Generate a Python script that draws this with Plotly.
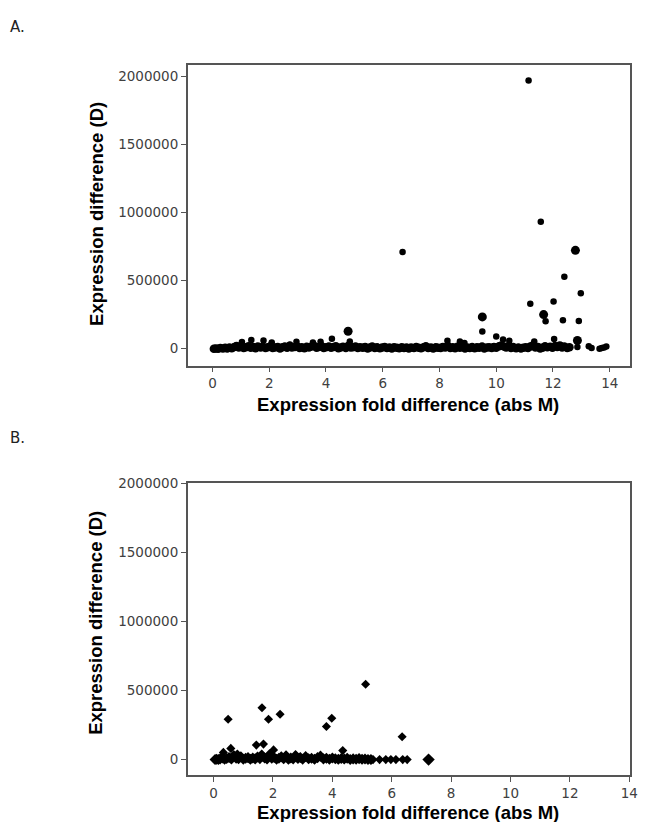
import plotly.graph_objects as go

# Panel A: dense band of genes near D = 0
a_band_x = [0.05, 0.12, 0.2, 0.28, 0.37, 0.45, 0.52, 0.6, 0.68, 0.77,
            0.85, 0.93, 1.0, 1.1, 1.18, 1.27, 1.35, 1.44, 1.52, 1.6,
            1.7, 1.78, 1.87, 1.95, 2.04, 2.12, 2.2, 2.3, 2.38, 2.47,
            2.55, 2.63, 2.72, 2.8, 2.9, 2.98, 3.07, 3.15, 3.24, 3.32,
            3.4, 3.5, 3.58, 3.67, 3.75, 3.84, 3.92, 4.0, 4.1, 4.18,
            4.27, 4.35, 4.44, 4.52, 4.6, 4.7, 4.78, 4.87, 4.95, 5.04,
            5.12, 5.2, 5.3, 5.38, 5.47, 5.55, 5.63, 5.72, 5.8, 5.9,
            5.98, 6.07, 6.15, 6.24, 6.32, 6.4, 6.5, 6.58, 6.67, 6.75,
            6.84, 6.92, 7.0, 7.1, 7.18, 7.27, 7.35, 7.44, 7.52, 7.6,
            7.7, 7.78, 7.87, 7.95, 8.04, 8.12, 8.2, 8.3, 8.38, 8.47,
            8.55, 8.63, 8.72, 8.8, 8.9, 8.98, 9.07, 9.15, 9.24, 9.32,
            9.4, 9.5, 9.58, 9.67, 9.75, 9.84, 9.92, 10.0, 10.1, 10.18,
            10.27, 10.35, 10.44, 10.52, 10.6, 10.7, 10.78, 10.87, 10.95, 11.04,
            11.12, 11.2, 11.3, 11.38, 11.47, 11.55, 11.63, 11.72, 11.8, 11.9,
            11.98, 12.07, 12.15, 12.24, 12.32, 12.4, 12.5, 12.58]
a_band_y = [0, 2000, 0, 4000, 1000, 6000, 2000, 9000, 3000, 12000,
            20000, 8000, 15000, 4000, 10000, 18000, 6000, 12000, 3000, 16000,
            9000, 14000, 5000, 11000, 17000, 4000, 8000, 13000, 2000, 10000,
            15000, 6000, 20000, 9000, 12000, 18000, 5000, 11000, 3000, 14000,
            8000, 16000, 22000, 7000, 13000, 19000, 4000, 10000, 15000, 6000,
            12000, 18000, 3000, 9000, 14000, 5000, 20000, 8000, 11000, 16000,
            4000, 10000, 7000, 13000, 2000, 9000, 15000, 5000, 11000, 3000,
            8000, 12000, 4000, 9000, 2000, 10000, 6000, 3000, 11000, 5000,
            8000, 2000, 9000, 4000, 12000, 6000, 3000, 10000, 17000, 5000,
            9000, 2000, 11000, 6000, 4000, 13000, 8000, 20000, 5000, 10000,
            3000, 14000, 7000, 18000, 1000, 9000, 5000, 12000, 3000, 10000,
            6000, 15000, 2000, 8000, 11000, 4000, 13000, 7000, 18000, 24000,
            15000, 9000, 20000, 5000, 12000, 3000, 8000, 2000, 6000, 11000,
            4000, 16000, 25000, 9000, 13000, 2000, 7000, 18000, 10000, 14000,
            6000, 20000, 12000, 24000, 8000, 15000, 5000, 10000]

# Panel A: points standing out from the band
a_out_x = [0.85, 1.04, 1.37, 1.80, 2.09, 2.73, 2.96, 3.54, 3.81, 4.21,
           4.84, 8.28, 8.72, 8.88, 10.0, 10.24, 10.46, 11.34, 12.04, 12.86,
           13.26, 13.36, 13.64, 13.72, 13.8, 13.88, 6.70, 9.51, 11.14, 11.20,
           11.57, 11.74, 12.02, 12.35, 12.40, 12.91, 12.98]
a_out_y = [25000, 48000, 63000, 60000, 45000, 30000, 50000, 45000, 50000, 73000,
           53000, 58000, 53000, 41000, 90000, 68000, 58000, 53000, 70000, 12000,
           17000, 5000, 0, 5000, 8000, 15000, 710000, 126000, 1969000, 330000,
           933000, 201000, 347000, 209000, 529000, 204000, 407000]

# Panel A: the few larger (overlapping) dots
a_big_x = [4.78, 9.51, 11.67, 12.79, 12.86]
a_big_y = [128000, 233000, 250000, 722000, 60000]

# Panel B: dense band
b_band_x = [0.05, 0.1, 0.16, 0.22, 0.3, 0.37, 0.44, 0.52, 0.6, 0.68,
            0.76, 0.84, 0.92, 1.0, 1.08, 1.16, 1.24, 1.32, 1.4, 1.48,
            1.56, 1.64, 1.72, 1.8, 1.88, 1.96, 2.04, 2.12, 2.2, 2.28,
            2.36, 2.44, 2.52, 2.6, 2.68, 2.76, 2.84, 2.92, 3.0, 3.1,
            3.2, 3.3, 3.4, 3.5, 3.6, 3.7, 3.8, 3.9, 4.0, 4.1,
            4.2, 4.3, 4.4, 4.5, 4.6, 4.7, 4.8, 4.9, 5.0, 5.1,
            5.2, 5.3]
b_band_y = [0, 2000, 0, 5000, 12000, 3000, 8000, 15000, 4000, 30000,
            10000, 6000, 20000, 3000, 9000, 14000, 2000, 11000, 5000, 18000,
            7000, 25000, 12000, 4000, 35000, 9000, 15000, 3000, 10000, 20000,
            6000, 28000, 2000, 12000, 5000, 30000, 8000, 15000, 3000, 22000,
            6000, 10000, 2000, 14000, 25000, 5000, 9000, 3000, 12000, 6000,
            2000, 8000, 4000, 10000, 1000, 5000, 3000, 7000, 2000, 4000,
            1000, 0]

b_out_x = [0.33, 0.49, 0.58, 1.44, 1.68, 1.63, 1.85, 2.02, 2.24, 3.80,
           3.98, 4.35, 5.12, 6.35, 5.37, 5.59, 5.80, 5.97, 6.14, 6.37,
           6.52, 0.80, 1.62]
b_out_y = [52000, 292000, 81000, 105000, 112000, 375000, 292000, 70000, 328000, 239000,
           299000, 65000, 545000, 165000, 0, 0, 0, 0, 0, 0,
           0, 40000, 40000]

b_big_x = [7.24]
b_big_y = [0]

y_ticks = [0, 500000, 1000000, 1500000, 2000000]
y_tick_labels = ["0", "500000", "1000000", "1500000", "2000000"]
x_ticks = [0, 2, 4, 6, 8, 10, 12, 14]

# the page body has an 8px margin; the div may run into the right margin
# without scrolling, but the bottom margin adds to the page height
OFF = 8
W, H = 653 - OFF, 830 - 2 * OFF


def px_x(p):
    return (p - OFF) / W


def px_y(p):
    return 1 - (p - OFF) / H


fig = go.Figure()

fig.add_trace(go.Scatter(x=a_band_x, y=a_band_y, mode="markers",
                         marker=dict(symbol="circle", size=8.5, color="black"),
                         xaxis="x", yaxis="y"))
fig.add_trace(go.Scatter(x=a_out_x, y=a_out_y, mode="markers",
                         marker=dict(symbol="circle", size=6.5, color="black"),
                         xaxis="x", yaxis="y"))
fig.add_trace(go.Scatter(x=a_big_x, y=a_big_y, mode="markers",
                         marker=dict(symbol="circle", size=9, color="black"),
                         xaxis="x", yaxis="y"))

fig.add_trace(go.Scatter(x=b_band_x, y=b_band_y, mode="markers",
                         marker=dict(symbol="diamond", size=8.5, color="black"),
                         xaxis="x2", yaxis="y2"))
fig.add_trace(go.Scatter(x=b_out_x, y=b_out_y, mode="markers",
                         marker=dict(symbol="diamond", size=7, color="black"),
                         xaxis="x2", yaxis="y2"))
fig.add_trace(go.Scatter(x=b_big_x, y=b_big_y, mode="markers",
                         marker=dict(symbol="diamond", size=9.5, color="black"),
                         xaxis="x2", yaxis="y2"))

axis_style = dict(showline=True, linecolor="#555555", linewidth=1.5, mirror=True,
                  ticks="outside", ticklen=5, tickcolor="#555555", tickwidth=1,
                  showgrid=False, zeroline=False,
                  tickfont=dict(family="DejaVu Sans", size=13.5, color="#404040"))

fig.update_layout(
    width=W, height=H,
    margin=dict(l=0, r=0, t=0, b=0),
    paper_bgcolor="white", plot_bgcolor="white",
    showlegend=False,
    xaxis=dict(domain=[px_x(190), px_x(638)], range=[-0.87, 14.72], tickvals=x_ticks,
               anchor="y", **axis_style),
    yaxis=dict(domain=[px_y(361), px_y(57)], range=[-124000, 2087000], tickvals=y_ticks,
               ticktext=y_tick_labels, anchor="x", **axis_style),
    xaxis2=dict(domain=[px_x(190), px_x(638)], range=[-0.87, 14.03], tickvals=x_ticks,
                anchor="y2", **axis_style),
    yaxis2=dict(domain=[px_y(775), px_y(480)], range=[-115000, 2000000], tickvals=y_ticks,
                ticktext=y_tick_labels, anchor="x2", **axis_style),
)

title_font = dict(family="Liberation Sans", size=18.5, color="black")
label_font = dict(family="DejaVu Sans", size=15, color="#222222")

annotations = [
    dict(text="A.", x=px_x(8), y=px_y(19), font=label_font),
    dict(text="B.", x=px_x(8), y=px_y(434), font=label_font),
    dict(text="<b>Expression fold difference (abs M)</b>", x=px_x(413), y=px_y(400),
         font=title_font, xanchor="center"),
    dict(text="<b>Expression fold difference (abs M)</b>", x=px_x(413), y=px_y(812),
         font=title_font, xanchor="center"),
    dict(text="<b>Expression difference (D)</b>", x=px_x(97), y=px_y(208),
         font=title_font, textangle=-90, xanchor="center"),
    dict(text="<b>Expression difference (D)</b>", x=px_x(97), y=px_y(621),
         font=title_font, textangle=-90, xanchor="center"),
]
for a in annotations:
    a.setdefault("xanchor", "left")
    fig.add_annotation(xref="paper", yref="paper", showarrow=False, yanchor="middle", **a)

fig.write_html("out.html")
